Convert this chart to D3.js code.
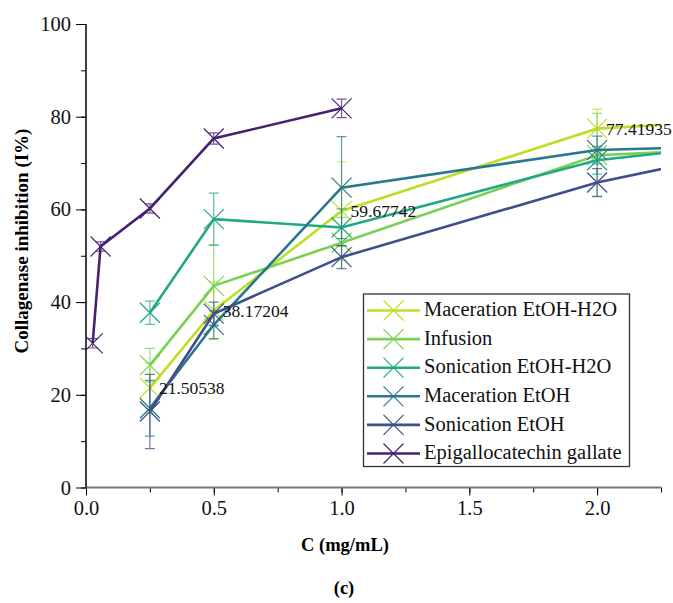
<!DOCTYPE html>
<html>
<head>
<meta charset="utf-8">
<script src="https://cdn.jsdelivr.net/npm/d3@7"></script>
<style>
  body { margin: 0; background: #fff; }
  svg { font-family: "Liberation Serif", "DejaVu Serif", serif; }
</style>
</head>
<body>
<svg id="chart"></svg>
<script>
// concentrations (mg/mL); the last one lies past the axis end and is clipped
let conc = [0.25, 0.5, 1.0, 2.0, 2.5];
let egcgConc = [0.026, 0.057, 0.25, 0.5, 1.0];

let seriesNames = [
    "Maceration EtOH-H2O",
    "Infusion",
    "Sonication EtOH-H2O",
    "Maceration EtOH",
    "Sonication EtOH",
    "Epigallocatechin gallate"
];

let macEtOHH2O = [21.50538, 38.17204, 59.67742, 77.41935, 79.0];
let infusion   = [26.4, 43.5, 52.8, 71.7, 72.9];
let sonEtOHH2O = [37.7, 57.9, 56.1, 70.6, 73.6];
let macEtOH    = [17.1, 35.1, 64.7, 72.8, 73.6];
let sonEtOH    = [16.4, 37.5, 49.7, 65.8, 71.6];
let egcg       = [31.1, 52.0, 60.2, 75.3, 81.8];

let macEtOHH2OErr = [5.4, 6.2, 10.6, 4.2, 0];
let infusionErr   = [3.6, 8.8, 5.5, 9.0, 0];
let sonEtOHH2OErr = [2.5, 5.6, 4.0, 3.0, 0];
let macEtOHErr    = [6.0, 3.0, 11.0, 3.0, 0];
let sonEtOHErr    = [8.0, 2.5, 2.5, 3.0, 0];
let egcgErr       = [1.0, 1.0, 1.0, 1.2, 2.0];

let xTicks = [0, 0.5, 1.0, 1.5, 2.0];
let yTicks = [0, 20, 40, 60, 80, 100];

let colour = ['#bfdf25', '#7ad151', '#22a884', '#2a788e', '#3e4f8a', '#46216f'];

let width = 673, height = 603;
let plotLeft = 86, plotRight = 661, plotTop = 24, plotBottom = 487.5;

let x = d3.scaleLinear().domain([0, 2.25]).range([plotLeft, plotRight]);
let y = d3.scaleLinear().domain([0, 100]).range([plotBottom, plotTop]);

let svg = d3.select("#chart").attr("width", width).attr("height", height);

let series = [
    {name: seriesNames[0], xs: conc, ys: macEtOHH2O, err: macEtOHH2OErr},
    {name: seriesNames[1], xs: conc, ys: infusion, err: infusionErr},
    {name: seriesNames[2], xs: conc, ys: sonEtOHH2O, err: sonEtOHH2OErr},
    {name: seriesNames[3], xs: conc, ys: macEtOH, err: macEtOHErr},
    {name: seriesNames[4], xs: conc, ys: sonEtOH, err: sonEtOHErr},
    {name: seriesNames[5], xs: egcgConc, ys: egcg, err: egcgErr}
];

svg.append("clipPath").attr("id", "plot-clip")
    .append("rect")
    .attr("x", plotLeft).attr("y", 0)
    .attr("width", plotRight - plotLeft).attr("height", plotBottom);

// axes
let xAxis = svg.append("g").attr("transform", "translate(0," + plotBottom + ")");
xAxis.call(d3.axisBottom(x).tickValues(d3.range(0, 2.26, 0.25)).tickSize(5).tickFormat(""))
    .call(g => g.select(".domain").remove());
xAxis.append("g")
    .call(d3.axisBottom(x).tickValues(xTicks).tickSize(8).tickPadding(5).tickFormat(d3.format(".1f")))
    .call(g => g.select(".domain").remove())
    .selectAll("text").attr("font-size", 20.5).attr("fill", "#111").attr("font-family", "Liberation Serif");
svg.append("line")
    .attr("x1", plotLeft).attr("x2", plotRight).attr("y1", plotBottom).attr("y2", plotBottom)
    .attr("stroke", "#777").attr("stroke-width", 2);

let yAxis = svg.append("g").attr("transform", "translate(" + plotLeft + ",0)");
yAxis.call(d3.axisLeft(y).tickValues(d3.range(0, 101, 10)).tickSize(5).tickFormat(""))
    .call(g => g.select(".domain").remove());
yAxis.append("g")
    .call(d3.axisLeft(y).tickValues(yTicks).tickSize(10).tickPadding(5).tickFormat(d3.format("d")))
    .call(g => g.select(".domain").remove())
    .selectAll("text").attr("font-size", 20.5).attr("fill", "#111").attr("font-family", "Liberation Serif");
svg.append("line")
    .attr("x1", plotLeft).attr("x2", plotLeft).attr("y1", plotTop).attr("y2", plotBottom)
    .attr("stroke", "#000").attr("stroke-width", 1.5);

// axis titles
svg.append("text")
    .attr("transform", "translate(24,241) rotate(-90)")
    .attr("text-anchor", "middle").attr("dominant-baseline", "middle")
    .attr("font-size", 19).attr("font-weight", "bold")
    .text("Collagenase inhibition (I%)");
svg.append("text")
    .attr("x", 345).attr("y", 547)
    .attr("text-anchor", "middle").attr("dominant-baseline", "middle")
    .attr("font-size", 18.5).attr("font-weight", "bold")
    .text("C (mg/mL)");
svg.append("text")
    .attr("x", 344).attr("y", 590)
    .attr("text-anchor", "middle").attr("dominant-baseline", "middle")
    .attr("font-size", 18.5).attr("font-weight", "bold")
    .text("(c)");

function cross(g, cx, cy, col) {
    let s = 10;
    g.append("path")
        .attr("d", "M" + (cx - s) + "," + (cy - s) + "L" + (cx + s) + "," + (cy + s) +
                   "M" + (cx - s) + "," + (cy + s) + "L" + (cx + s) + "," + (cy - s))
        .attr("stroke", col).attr("stroke-width", 1.2).attr("fill", "none");
}

let plot = svg.append("g").attr("clip-path", "url(#plot-clip)");
let line = d3.line().x(d => x(d[0])).y(d => y(d[1]));

series.forEach((s, i) => {
    let pts = s.xs.map((v, j) => [v, s.ys[j], s.err[j]]);
    let g = plot.append("g");
    // error bars
    pts.filter(p => p[2] > 0).forEach(p => {
        let px = x(p[0]);
        g.append("path")
            .attr("d", "M" + px + "," + y(p[1] - p[2]) + "V" + y(p[1] + p[2]) +
                       "M" + (px - 5) + "," + y(p[1] - p[2]) + "H" + (px + 5) +
                       "M" + (px - 5) + "," + y(p[1] + p[2]) + "H" + (px + 5))
            .attr("stroke", colour[i]).attr("stroke-width", 1.2)
            .attr("stroke-opacity", 0.75).attr("fill", "none");
    });
    g.append("path").datum(pts)
        .attr("d", line)
        .attr("fill", "none").attr("stroke", colour[i]).attr("stroke-width", 2.6);
    pts.forEach(p => cross(g, x(p[0]), y(p[1]), colour[i]));
});

// value labels on the Maceration EtOH-H2O series
conc.slice(0, 4).forEach((c, j) => {
    svg.append("text")
        .attr("x", x(c) + 9).attr("y", y(macEtOHH2O[j]) + 2)
        .attr("dominant-baseline", "middle")
        .attr("font-size", 17.5).attr("fill", "#111")
        .text(macEtOHH2O[j]);
});

// legend
let legend = svg.append("g");
legend.append("rect")
    .attr("x", 363.5).attr("y", 294).attr("width", 266).attr("height", 172.5)
    .attr("fill", "#fff").attr("stroke", "#333").attr("stroke-width", 1.3);
seriesNames.forEach((name, i) => {
    let ly = 310.5 + i * 28.6;
    legend.append("line")
        .attr("x1", 367).attr("x2", 420).attr("y1", ly).attr("y2", ly)
        .attr("stroke", colour[i]).attr("stroke-width", 2.6);
    cross(legend, 393.5, ly, colour[i]);
    legend.append("text")
        .attr("x", 424).attr("y", ly + 1)
        .attr("dominant-baseline", "middle")
        .attr("font-size", 20.5).attr("fill", "#111")
        .text(name);
});
</script>
</body>
</html>
